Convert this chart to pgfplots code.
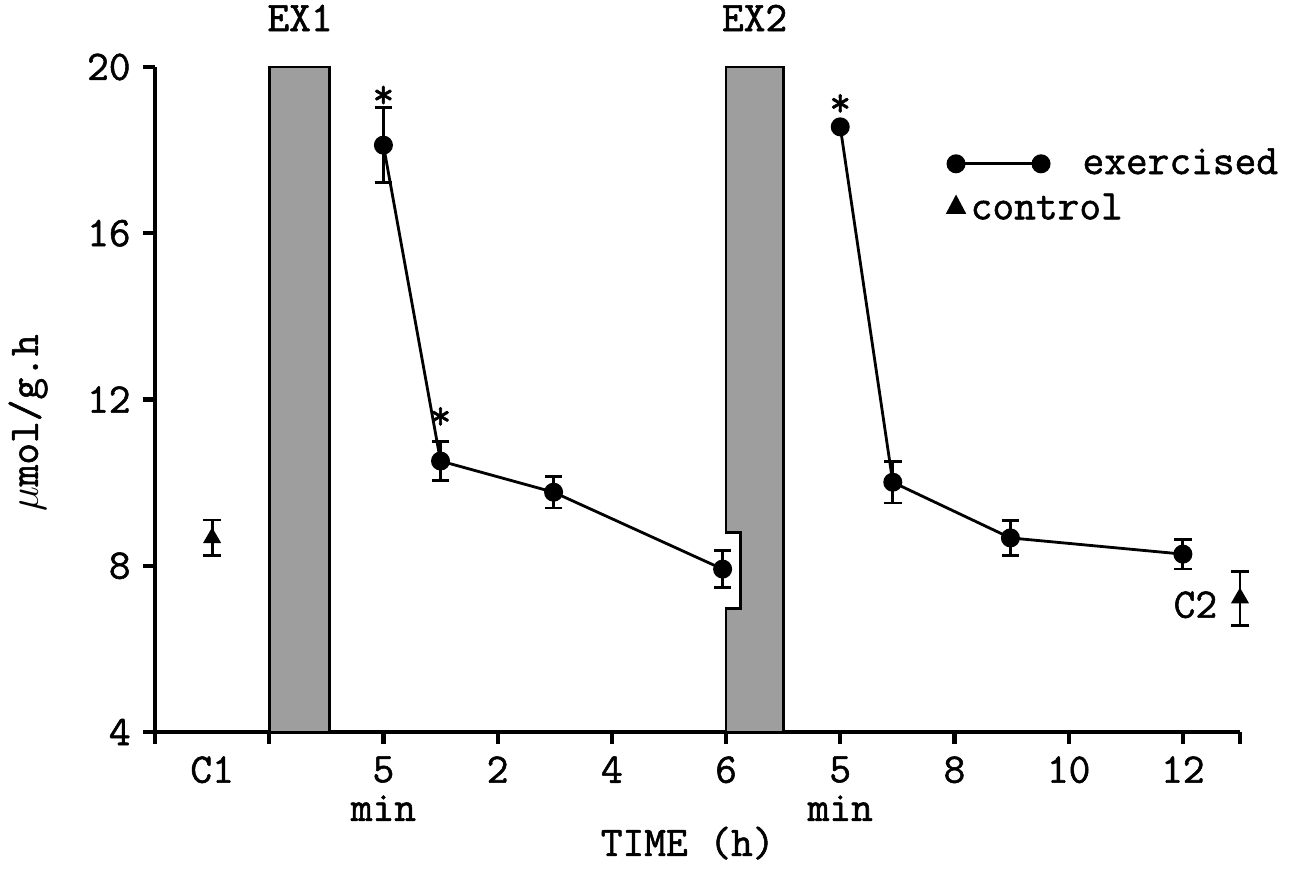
\documentclass[border=0pt]{standalone}
\usepackage{fontspec}
\usepackage{pgfplots}
\pgfplotsset{compat=1.18}
\newfontfamily\plotfont{lmmono12-regular.otf}[FakeBold=1.3]
\definecolor{stipple}{HTML}{9E9E9E}
\begin{document}
\begin{tikzpicture}[font=\fontsize{12}{14}\plotfont]
\begin{axis}[
  at={(0,0)}, anchor=south west,
  scale only axis, width=10.85cm, height=6.65cm,
  xmin=0, xmax=9.5, ymin=4, ymax=20,
  axis x line=bottom, axis y line=left,
  axis line style={-, very thick, black},
  tick style={very thick, black}, major tick length=1.2mm, tick align=outside,
  xtick={0,1,2,3,4,5,6,7,8,9,9.5},
  xticklabels={,,5\\min,2,4,6,5\\min,8,10,12,},
  xticklabel style={align=center, font=\fontsize{12}{11}\plotfont},
  extra x ticks={0.5}, extra x tick labels={C1},
  extra x tick style={major tick style={draw=none}},
  ytick={4,8,12,16,20}, yticklabels={4,8,12,16,20},
  yticklabel style={font=\fontsize{12}{14}\plotfont},
  clip=false,
  xlabel={TIME (h)},
  xlabel style={at={(axis description cs:0.491,-0.167)}, anchor=center},
  ylabel={$\mu$mol/g.h},
  ylabel style={at={(axis description cs:-0.117,0.465)}, anchor=center},
  legend style={at={(0.719,0.90)}, anchor=north west, draw=none, fill=none,
    font=\fontsize{12}{14}\plotfont, row sep=0.9mm,
    /tikz/every odd column/.append style={column sep=0.25cm}},
]
% exercise periods
\addplot[draw=black, thick, fill=stipple, forget plot]
  coordinates {(1,4) (1,20) (1.53,20) (1.53,4)} -- cycle;
\addplot[draw=black, thick, fill=stipple, forget plot]
  coordinates {(5,4) (5,6.98) (5.13,6.98) (5.13,8.81) (5,8.81) (5,20) (5.5,20) (5.5,4)} -- cycle;

% exercised, after EX1
\addplot[black, thick, mark=*, mark size=2.3pt,
  legend image code/.code={
    \draw[black, thick] (0cm,0cm) -- (0.85cm,0cm);
    \fill[black] (0cm,0cm) circle (2.3pt);
    \fill[black] (0.85cm,0cm) circle (2.3pt);},
  error bars/.cd, y dir=both, y explicit,
  error bar style={black, thick},
  error mark options={black, thick, mark size=2.5pt, rotate=90}]
  coordinates {
  (2,18.12) +- (0,0.90)
  (2.5,10.52) +- (0,0.47)
  (3.49,9.77) +- (0,0.38)
  (4.97,7.92) +- (0,0.45)
};
\addlegendentry{exercised}

% exercised, after EX2
\addplot[black, thick, mark=*, mark size=2.3pt, forget plot,
  error bars/.cd, y dir=both, y explicit,
  error bar style={black, thick},
  error mark options={black, thick, mark size=2.5pt, rotate=90}]
  coordinates {
  (6,18.56) +- (0,0)
  (6.46,10.01) +- (0,0.50)
  (7.49,8.67) +- (0,0.42)
  (9,8.28) +- (0,0.36)
};

% controls
\addplot[black, only marks, mark=triangle*, mark size=2.6pt,
  legend image code/.code={
    \fill[black] (-0.09cm,-0.06cm) -- (0.09cm,-0.06cm) -- (0cm,0.11cm) -- cycle;
    \node[overlay, anchor=west, inner sep=0pt] at (0.14cm,-0.02cm) {control};},
  error bars/.cd, y dir=both, y explicit,
  error bar style={black, thick},
  error mark options={black, thick, mark size=2.5pt, rotate=90}]
  coordinates {
  (0.5,8.67) +- (0,0.43)
  (9.5,7.22) +- (0,0.65)
};
\addlegendentry{}

\node at (axis cs:2,19.28) {*};
\node at (axis cs:2.5,11.55) {*};
\node at (axis cs:6,19.08) {*};
\node at (axis cs:1.27,21.18) {EX1};
\node at (axis cs:5.25,21.18) {EX2};
\node at (axis cs:9.11,7.06) {C2};
\end{axis}
\pgfresetboundingbox
\path (-1.55cm,-1.62cm) rectangle (11.47cm,7.32cm);
\end{tikzpicture}
\end{document}
